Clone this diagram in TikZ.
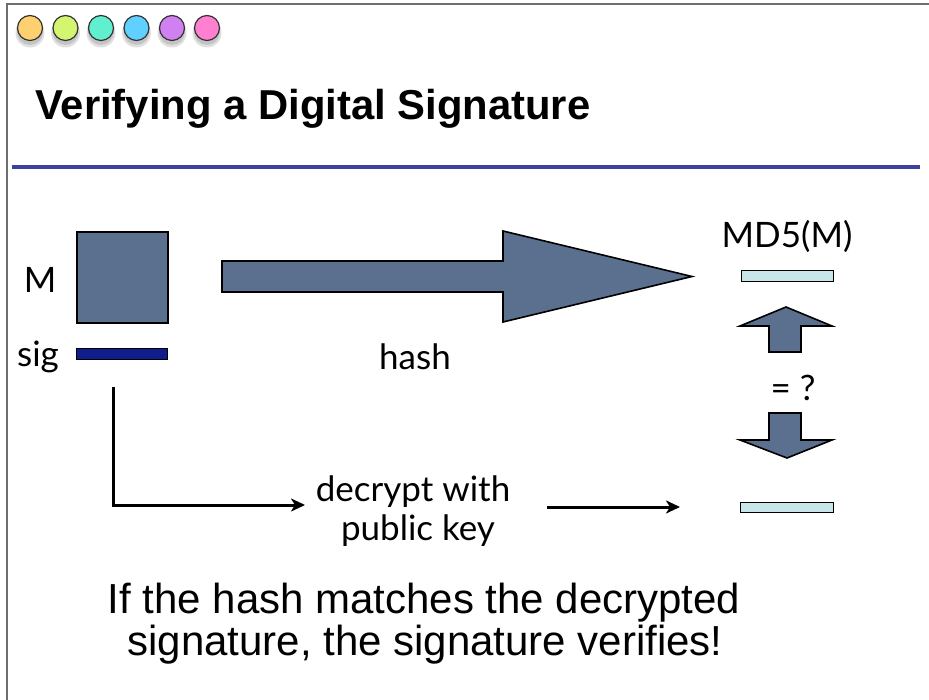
\documentclass[tikz,border=0pt]{standalone}
\usepackage{fontspec}
\setmainfont{Liberation Sans}
\newfontfamily\gillfont{Lato}
\usetikzlibrary{arrows.meta}
\definecolor{slate}{RGB}{90,112,142}
\definecolor{navybar}{RGB}{15,30,140}
\definecolor{paleteal}{RGB}{200,230,234}
\definecolor{rulecol}{RGB}{60,64,160}
\definecolor{framecol}{RGB}{110,110,110}
\definecolor{dotA}{RGB}{255,208,112}
\definecolor{dotB}{RGB}{212,245,112}
\definecolor{dotC}{RGB}{96,240,208}
\definecolor{dotD}{RGB}{96,208,255}
\definecolor{dotE}{RGB}{208,128,240}
\definecolor{dotF}{RGB}{255,128,208}
\tikzset{
  shapeline/.style={draw=black, line width=1.6pt, fill=slate, line join=miter},
  barbox/.style={draw=black, line width=1.4pt, inner sep=0pt, anchor=north west},
  gill/.style={font=\gillfont\fontsize{35}{40}\selectfont, inner sep=0pt, anchor=base},
  concl/.style={font=\fontsize{42}{42}\selectfont, inner sep=0pt, anchor=base},
  conn/.style={draw=black, line width=3pt, -{Stealth[length=14pt,width=13pt,inset=4pt]}},
  dot/.style={circle, draw=black!80, line width=1.2pt, minimum size=25pt, inner sep=0pt}
}
\begin{document}
\begin{tikzpicture}[x=1pt,y=-1pt]
\useasboundingbox (0,0) rectangle (929,700);
\fill[white] (0,0) rectangle (929,700);
% frame
\draw[framecol, line width=1.5pt] (7,700) -- (7,4) -- (929,4);
% traffic dots
\foreach \i/\x/\c in {1/30/dotA,2/65.5/dotB,3/101/dotC,4/136.5/dotD,5/172/dotE,6/207/dotF}{
  \fill[black, opacity=0.12] (\x,33) circle (14.5pt);
  \fill[black, opacity=0.12] (\x,32) circle (13pt);
  \node[dot, fill=\c] (dot\i) at (\x,28) {};
}
% title
\node[font=\bfseries\fontsize{41.8}{48}\selectfont, inner sep=0pt, anchor=base west] (title) at (35,120) {Verifying a Digital Signature};
\draw[rulecol, line width=4pt] (12,167) -- (920,167);
% message and signature
\node[barbox, shapeline, minimum width=91pt, minimum height=91pt] (mbox) at (76,231) {};
\node[barbox, fill=navybar, minimum width=91pt, minimum height=11pt] (sigbar) at (76,348) {};
\node[gill] (mlab) at (40,293) {M};
\node[gill] (siglab) at (38,367) {sig};
% hash arrow
\draw[shapeline] (222,261) -- (503,261) -- (503,231) -- (692,276.5) -- (503,322) -- (503,292) -- (222,292) -- cycle;
\node[gill] (hashlab) at (415,370) {hash};
% right column
\node[gill] (md5) at (787,248) {MD5(M)};
\node[barbox, fill=paleteal, minimum width=92pt, minimum height=11pt] (md5bar) at (741,270) {};
\draw[shapeline] (769,352) -- (769,326) -- (740,326) -- (786,307) -- (832,326) -- (801,326) -- (801,352) -- cycle;
\node[gill] (eqlab) at (793,400) {= ?};
\draw[shapeline] (769,413) -- (801,413) -- (801,440) -- (832,440) -- (787,458) -- (740,440) -- (769,440) -- cycle;
\node[barbox, fill=paleteal, minimum width=93pt, minimum height=10pt] (decbar) at (740,502) {};
% decrypt
\node[gill] (dec1) at (413,501) {decrypt with};
\node[gill] (dec2) at (418,540) {public key};
\coordinate (sigdrop) at (113,387);
\coordinate (decin) at (305,505);
\coordinate (decout) at (547,507);
\coordinate (barin) at (680,507);
\draw[conn] (sigdrop) |- (decin);
\draw[conn] (decout) -- (barin);
% conclusion
\node[concl] (concl1) at (424,613) {If the hash matches the decrypted};
\node[concl] (concl2) at (425,655) {signature, the signature verifies!};
\end{tikzpicture}
\end{document}
